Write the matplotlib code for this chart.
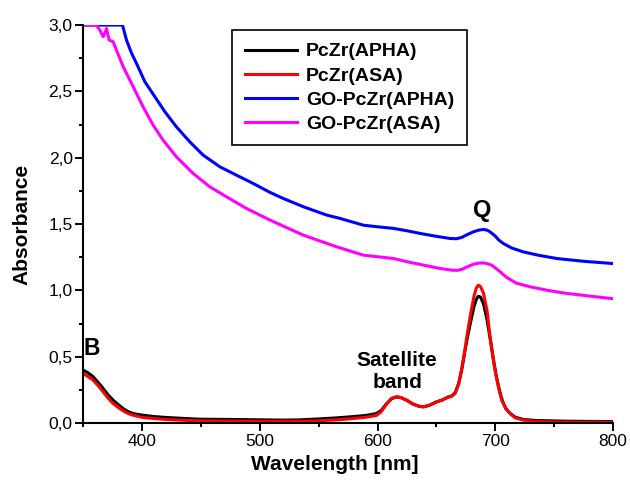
import matplotlib
matplotlib.use("Agg")
import matplotlib.pyplot as plt
from matplotlib.ticker import MultipleLocator, FuncFormatter

plt.rcParams['font.family'] = ['Liberation Sans', 'DejaVu Sans']

# PcZr(APHA) - black
wl_apha = [350, 354, 358.5, 363, 367, 371, 375.5, 380, 384, 388, 392.5, 397, 401, 410,
           420.7, 435, 449, 477, 520, 534, 550, 565, 577, 590, 599, 603, 607.8, 612,
           616.3, 620, 624.8, 630, 635, 638.9, 644, 650.3, 655, 660.1, 663, 666, 669,
           671.5, 674, 676, 679, 682, 684, 685.6, 687.5, 690, 693, 696, 699, 701, 703.5,
           706, 709, 712.5, 717, 724, 735, 760, 800]
abs_apha = [0.40, 0.38, 0.35, 0.305, 0.261, 0.215, 0.173, 0.138, 0.110, 0.088, 0.073, 0.065,
            0.060, 0.050, 0.043, 0.036, 0.030, 0.028, 0.023, 0.025, 0.032, 0.040, 0.048,
            0.058, 0.073, 0.095, 0.148, 0.185, 0.198, 0.192, 0.173, 0.145, 0.128, 0.123,
            0.135, 0.161, 0.175, 0.198, 0.205, 0.23, 0.30, 0.40, 0.53, 0.63, 0.76, 0.88,
            0.935, 0.957, 0.95, 0.90, 0.78, 0.62, 0.45, 0.35, 0.25, 0.17, 0.11, 0.075,
            0.045, 0.028, 0.02, 0.015, 0.012]

# PcZr(ASA) - red
wl_asa = [350, 354, 358.5, 363, 367, 371, 375.5, 380, 384, 388, 392.5, 397, 401, 410,
          420.7, 435, 449, 477, 520, 534, 550, 565, 577, 590, 599, 603, 607.8, 612,
          616.3, 620, 624.8, 630, 635, 638.9, 644, 650.3, 655, 660.1, 663, 666, 669,
          671.5, 674, 676, 679, 682, 684, 685.6, 687.5, 690, 693, 695.6, 698, 700, 703,
          705.5, 709, 712.5, 717, 724, 735, 760, 800]
abs_asa = [0.374, 0.352, 0.324, 0.28, 0.236, 0.19, 0.148, 0.117, 0.093, 0.073, 0.060, 0.050,
           0.043, 0.035, 0.028, 0.022, 0.018, 0.016, 0.014, 0.015, 0.018, 0.025, 0.033,
           0.045, 0.058, 0.085, 0.145, 0.188, 0.200, 0.193, 0.173, 0.145, 0.128, 0.123,
           0.135, 0.161, 0.175, 0.196, 0.203, 0.225, 0.30, 0.41, 0.54, 0.66, 0.82, 0.96,
           1.02, 1.040, 1.03, 0.98, 0.85, 0.65, 0.50, 0.39, 0.26, 0.173, 0.11, 0.073,
           0.04, 0.023, 0.012, 0.008, 0.006]

# GO-PcZr(APHA) - blue
wl_go_apha = [350, 383.4, 386.8, 391, 395.3, 402.4, 410.9, 419.4, 429.2, 440.6, 451.9,
              466.1, 480.2, 494.3, 508.5, 519.8, 537, 556.9, 568.2, 588, 600, 613.5, 625,
              636.1, 650, 661.6, 667, 671.5, 676, 681.4, 686, 689.9, 693, 695.6, 700, 703,
              706.9, 714, 723.8, 737, 752.2, 775, 800]
abs_go_apha = [3.0, 3.0, 2.887, 2.79, 2.711, 2.573, 2.460, 2.347, 2.233, 2.120, 2.020,
               1.932, 1.869, 1.807, 1.740, 1.694, 1.631, 1.568, 1.543, 1.492, 1.48, 1.468,
               1.45, 1.430, 1.408, 1.392, 1.39, 1.40, 1.42, 1.442, 1.455, 1.460, 1.455,
               1.442, 1.41, 1.38, 1.354, 1.32, 1.291, 1.265, 1.241, 1.22, 1.203]

# GO-PcZr(ASA) - magenta
wl_go_asa = [350, 361.3, 364.2, 367.0, 368.5, 369.8, 372.1, 375.5, 378.3, 384, 392.5,
             400.9, 409.4, 417.9, 429.2, 443.4, 457.6, 471.7, 488.7, 508.8, 537, 565.4,
             588, 613.5, 626, 639, 653.1, 663, 668, 672, 676, 681.4, 686, 689.9, 693, 697,
             703, 709.7, 718, 729.5, 745, 760.7, 780, 800]
abs_go_asa = [3.0, 3.0, 2.962, 2.912, 2.94, 2.975, 2.887, 2.874, 2.811, 2.686, 2.535,
              2.384, 2.246, 2.133, 2.007, 1.882, 1.781, 1.706, 1.618, 1.530, 1.417, 1.329,
              1.266, 1.241, 1.215, 1.191, 1.166, 1.153, 1.152, 1.16, 1.178, 1.198, 1.206,
              1.208, 1.203, 1.191, 1.15, 1.098, 1.055, 1.028, 1.0, 0.978, 0.958, 0.938]

fig = plt.figure(figsize=(6.3, 4.82), dpi=100)
ax = fig.add_axes([0.132, 0.122, 0.841, 0.826])

lw = 2.2
ax.plot(wl_apha, abs_apha, color='black', lw=lw, label='PcZr(APHA)')
ax.plot(wl_asa, abs_asa, color='red', lw=lw, label='PcZr(ASA)')
ax.plot(wl_go_apha, abs_go_apha, color='blue', lw=lw, label='GO-PcZr(APHA)')
ax.plot(wl_go_asa, abs_go_asa, color='magenta', lw=lw, label='GO-PcZr(ASA)')

ax.set_xlim(350, 800)
ax.set_ylim(0, 3.0)
ax.spines['top'].set_visible(False)
ax.spines['right'].set_visible(False)
ax.spines['left'].set_linewidth(1.5)
ax.spines['bottom'].set_linewidth(1.5)

ax.xaxis.set_major_locator(MultipleLocator(100))
ax.xaxis.set_minor_locator(MultipleLocator(50))
ax.yaxis.set_major_locator(MultipleLocator(0.5))
ax.yaxis.set_minor_locator(MultipleLocator(0.25))
ax.yaxis.set_major_formatter(FuncFormatter(lambda v, p: f"{v:.1f}".replace('.', ',')))
ax.tick_params(which='major', direction='out', length=5.5, width=1.4, labelsize=12.5, pad=2)
ax.tick_params(which='minor', direction='out', length=3, width=1.4)

ax.set_xlabel('Wavelength [nm]', fontsize=15, fontweight='bold')
ax.set_ylabel('Absorbance', fontsize=15, fontweight='bold')
ax.xaxis.set_label_coords(0.475, -0.08)
ax.yaxis.set_label_coords(-0.098, 0.5)

ax.text(350.5, 0.513, 'B', fontsize=16.5, fontweight='bold', ha='left', va='baseline')
ax.text(688.5, 1.555, 'Q', fontsize=17, fontweight='bold', ha='center', va='baseline')
ax.text(616.6, 0.238, 'Satellite\nband', fontsize=15, fontweight='bold',
        ha='center', va='bottom', linespacing=1.2)

leg = ax.legend(loc='upper left', bbox_to_anchor=(0.281, 0.987), borderaxespad=0,
                fancybox=False, edgecolor='black', framealpha=1, handlelength=2.7,
                handletextpad=0.45, prop={'weight': 'bold', 'size': 14},
                borderpad=0.65, labelspacing=0.33)
leg.get_frame().set_linewidth(1.2)

fig.savefig('out.png', dpi=100)
